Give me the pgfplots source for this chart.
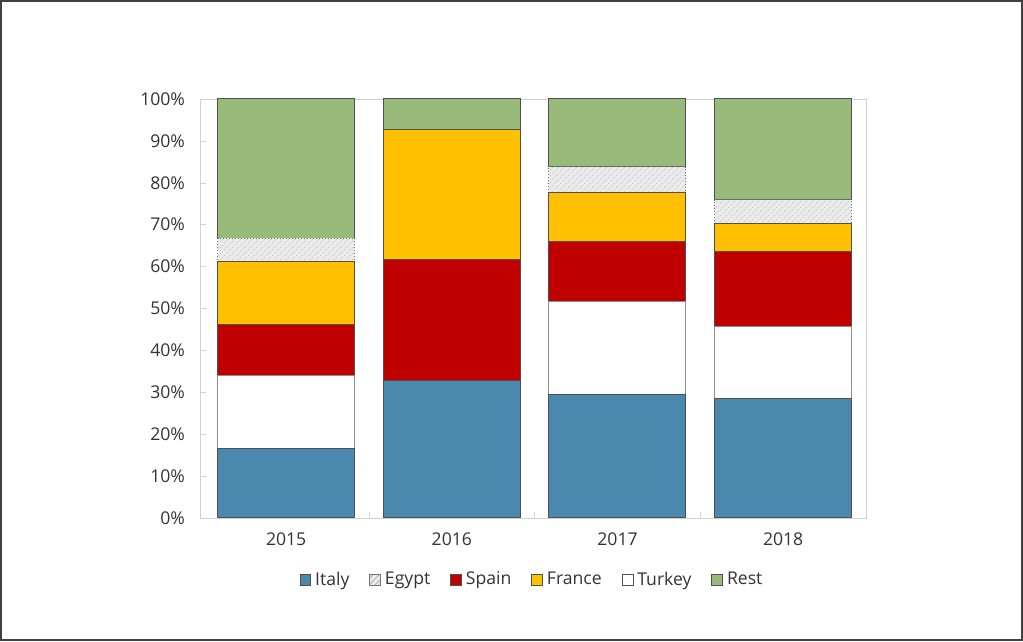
\documentclass[border=0pt]{standalone}
\usepackage{pgfplots}
\pgfplotsset{compat=1.18}
\usepackage{fontspec}
\setmainfont{Open Sans}
\usetikzlibrary{patterns}
\definecolor{italy}{RGB}{74,137,173}
\definecolor{spain}{RGB}{192,0,0}
\definecolor{france}{RGB}{255,192,0}
\definecolor{rest}{RGB}{152,187,122}
\definecolor{egypt}{RGB}{235,235,235}
\definecolor{edge}{RGB}{80,80,80}
\definecolor{frame}{RGB}{210,210,210}
\pgfplotsset{sqlegend/.style={legend image code/.code={\draw[##1] (0pt,-2.7pt) rectangle (5.4pt,2.7pt);}}}
\begin{document}
\begin{tikzpicture}[x=1pt,y=1pt]
\path[use as bounding box] (0,0) rectangle (511.5,321);
\draw[draw=black!75, line width=1pt] (0.5,0.8) rectangle (511,320.5);
\begin{axis}[
  at={(100pt,62pt)}, anchor=south west,
  scale only axis, width=333pt, height=209.5pt,
  ybar stacked, bar width=68.5pt,
  xmin=-0.52, xmax=3.5, ymin=0, ymax=100,
  xtick={0,1,2,3}, xticklabels={2015,2016,2017,2018},
  minor xtick={0.5,1.5,2.5},
  ytick={0,10,...,100},
  yticklabel={\pgfmathprintnumber{\tick}\%},
  /pgf/number format/assume math mode=true,
  axis line style={frame},
  major x tick style={draw=none},
  minor tick length=3pt,
  major tick length=3pt,
  tick style={frame},
  tick align=inside,
  xtick pos=bottom, ytick pos=left,
  ticklabel style={font=\fontsize{8.8}{10}\selectfont, text=black!80},
  yticklabel style={xshift=-4pt},
  xticklabel style={yshift=-4pt},
  legend style={at={(0.5,-0.148)}, anchor=center, draw=none, fill=none,
    legend columns=6, font=\fontsize{8.8}{10}\selectfont, text=black!80,
    /tikz/every even column/.append style={column sep=8pt},
    legend cell align=left},
]
\addplot[fill=italy, draw=edge, line width=0.5pt, forget plot] coordinates {(0,16.5) (1,32.9) (2,29.4) (3,28.4)};
\addplot[fill=white, draw=black!45, line width=0.5pt, forget plot] coordinates {(0,17.6) (1,0) (2,22.2) (3,17.4)};
\addplot[fill=spain, draw=edge, line width=0.5pt, forget plot] coordinates {(0,12.0) (1,28.7) (2,14.3) (3,17.9)};
\addplot[fill=france, draw=edge, line width=0.5pt, forget plot] coordinates {(0,15.2) (1,31.2) (2,11.9) (3,6.5)};
\addplot[fill=egypt, draw=black!55, line width=0.5pt, densely dotted, postaction={pattern=north east lines, pattern color=gray!45}, forget plot] coordinates {(0,5.5) (1,0) (2,6.0) (3,5.7)};
\addplot[fill=rest, draw=edge, line width=0.5pt, forget plot] coordinates {(0,33.2) (1,7.2) (2,16.2) (3,24.1)};
\addlegendimage{sqlegend, fill=italy, draw=edge}
\addlegendentry{Italy}
\addlegendimage{sqlegend, fill=egypt, draw=black!55, postaction={pattern=north east lines, pattern color=gray!60}}
\addlegendentry{Egypt}
\addlegendimage{sqlegend, fill=spain, draw=edge}
\addlegendentry{Spain}
\addlegendimage{sqlegend, fill=france, draw=edge}
\addlegendentry{France}
\addlegendimage{sqlegend, fill=white, draw=edge}
\addlegendentry{Turkey}
\addlegendimage{sqlegend, fill=rest, draw=edge}
\addlegendentry{Rest}
\end{axis}
\end{tikzpicture}
\end{document}
